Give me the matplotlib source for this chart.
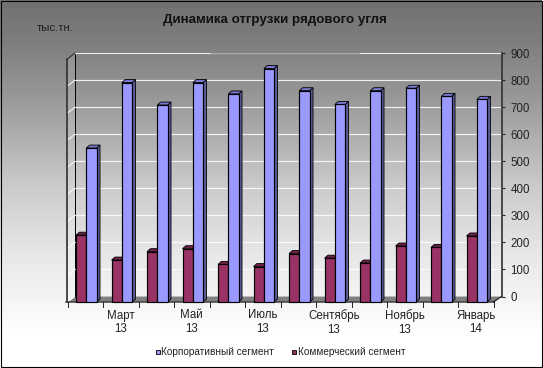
import numpy as np
import matplotlib
matplotlib.use('Agg')
import matplotlib.pyplot as plt
from matplotlib.patches import Polygon, Rectangle

plt.rcParams['font.family'] = ['Liberation Sans', 'DejaVu Sans']

categories = ['', 'Март\n13', '', 'Май\n13', '', 'Июль\n13', '', 'Сентябрь\n13', '', 'Ноябрь\n13', '', 'Январь\n14']
corporate = [569, 811, 728, 811, 769, 863, 781, 730, 781, 790, 760, 749]
commercial = [247, 155, 186, 197, 139, 131, 179, 162, 144, 207, 202, 244]
y_ticks = [0, 100, 200, 300, 400, 500, 600, 700, 800, 900]
series_names = ['Корпоративный сегмент', 'Коммерческий сегмент']
title = 'Динамика отгрузки рядового угля'
unit = 'тыс.тн.'

W, H = 543, 368
fig = plt.figure(figsize=(W / 100, H / 100), dpi=100)


def px_axes(x0, y_top, x1, y_bot, **kw):
    return fig.add_axes([x0 / W, 1 - y_bot / H, (x1 - x0) / W, (y_bot - y_top) / H], **kw)


# background layer in pixel coordinates
bg = px_axes(0, 0, W, H)
bg.set_xlim(0, W)
bg.set_ylim(H, 0)
bg.axis('off')
ys = np.arange(H)
grad = np.interp(ys, [0, 40, 100, 184, 250, 335, 368], [0.44, 0.49, 0.60, 0.79, 0.90, 1.0, 1.0])
bg.imshow(grad[:, None], cmap='gray', vmin=0, vmax=1, aspect='auto', extent=[0, W, H, 0], zorder=0)
bg.set_xlim(0, W)
bg.set_ylim(H, 0)
bg.add_patch(Rectangle((0.5, 0.5), W - 2, H - 2, fc='none', ec='black', lw=0.8, zorder=9))
bg.add_patch(Rectangle((W - 1, 0), 1, H, fc='white', ec='none', zorder=8))
bg.add_patch(Rectangle((0, H - 1), W, 1, fc='white', ec='none', zorder=8))

BX0, BX1, BT, BB = 75, 501.5, 53, 296.5
FX0, FX1, FB = 67.5, 493.5, 302
# left wall and floor
bg.add_patch(Polygon([(BX0, BT), (FX0, BT + 6), (FX0, FB), (BX0, BB)], fc='white', alpha=0.12, ec='none', zorder=1))
bg.add_patch(Polygon([(BX0, BB), (BX1, BB), (FX1, FB), (FX0, FB)], fc='#808080', ec='none', zorder=1))
for v in y_ticks[1:-1]:
    yy = BB - v * (BB - BT) / 900
    bg.plot([BX0, FX0], [yy, yy + 6], color='white', lw=0.7, zorder=2)
bg.plot([BX0, FX0], [BB, FB], color='white', lw=0.7, zorder=2)
bg.plot([BX0, FX0], [BT, BT + 6], color='#222222', lw=0.7, zorder=2)
bg.plot([FX0 - 1, FX0 - 1], [BT + 6, FB], color='#303030', lw=1.2, zorder=3)
bg.plot([BX0, BX0], [BT, BB], color='black', lw=0.7, zorder=3)
bg.plot([FX0 - 2, FX1], [FB + 0.3, FB + 0.3], color='#404040', lw=1.1, zorder=3)
bg.plot([BX1, FX1], [BB, FB], color='black', lw=0.7, zorder=3)

# back wall axes: grid and value axis
back = px_axes(BX0, BT, BX1, BB, facecolor='none')
back.set_xlim(0, 12)
back.set_ylim(0, 900)
back.set_xticks([])
back.set_yticks(y_ticks)
back.yaxis.tick_right()
back.tick_params(axis='y', length=2.5, width=0.8, color='#222222', labelsize=8.3, labelcolor='#222222', pad=4)
back.grid(axis='y', color='white', lw=0.85, alpha=0.85, zorder=1)
for s in ['top', 'left', 'bottom']:
    back.spines[s].set_visible(False)
back.spines['right'].set_color('#303030')
back.spines['right'].set_linewidth(1.2)
back.set_axisbelow(True)
back.plot([136 / 426.5 * 12, 284 / 426.5 * 12], [900, 900], color='#a8a8a8', lw=0.85, zorder=2, clip_on=False)

# front axes: bars
front = px_axes(FX0, FB - (BB - BT), FX1, FB, facecolor='none')
front.set_xlim(0, 12)
front.set_ylim(0, 900)
front.axis('off')
uw = (FX1 - FX0) / 12
uh = (BB - BT) / 900
dx, dy = 3.4 / uw, 3.0 / uh
bw = 0.29


def bars3d(vals, offs, face, side, top, z):
    for i, v in enumerate(vals):
        x0 = i + offs
        x1 = x0 + bw
        kw = dict(ec='black', lw=0.6, clip_on=False, joinstyle='miter')
        front.add_patch(Polygon([(x1, 0), (x1 + dx, dy), (x1 + dx, v + dy), (x1, v)], fc=side, zorder=z, **kw))
        front.add_patch(Polygon([(x0, v), (x0 + dx, v + dy), (x1 + dx, v + dy), (x1, v)], fc=top, zorder=z, **kw))
    front.bar(np.arange(12) + offs, vals, width=bw, align='edge', color=face, edgecolor='black', lw=0.85, zorder=z + 0.1, clip_on=False)


bars3d(commercial, 0.24, '#993366', '#5c1f3d', '#6e2249', 3)
bars3d(corporate, 0.53, '#9999ff', '#5c5c99', '#7777cc', 4)

# category ticks and labels, on the front edge
for i in range(13):
    xx = FX0 + i * uw
    bg.plot([xx, xx], [FB, FB + 4.5], color='#222222', lw=0.7, zorder=3)
for i, lab in enumerate(categories):
    if lab:
        xx = FX0 + (i + 0.5) * uw
        fig.text(xx / W, 1 - 309.5 / H, lab, ha='center', va='top', fontsize=8.3, color='#222222', linespacing=1.22)

fig.text(275 / W, 1 - 20.5 / H, title, ha='center', va='center', fontsize=9.6, fontweight='bold', color='#111111')
fig.text(37 / W, 1 - 28 / H, unit, ha='left', va='center', fontsize=8.2, color='#222222')

# legend
leg_y = 352
for name, col, xm in [(series_names[0], '#9999ff', 155.5), (series_names[1], '#993366', 292)]:
    bg.add_patch(Rectangle((xm, leg_y - 2), 4, 4, fc=col, ec='black', lw=0.6, zorder=5))
    fig.text((xm + 5.5) / W, 1 - leg_y / H, name, ha='left', va='center', fontsize=7.2, color='#222222')

fig.savefig('out.png', dpi=100)
